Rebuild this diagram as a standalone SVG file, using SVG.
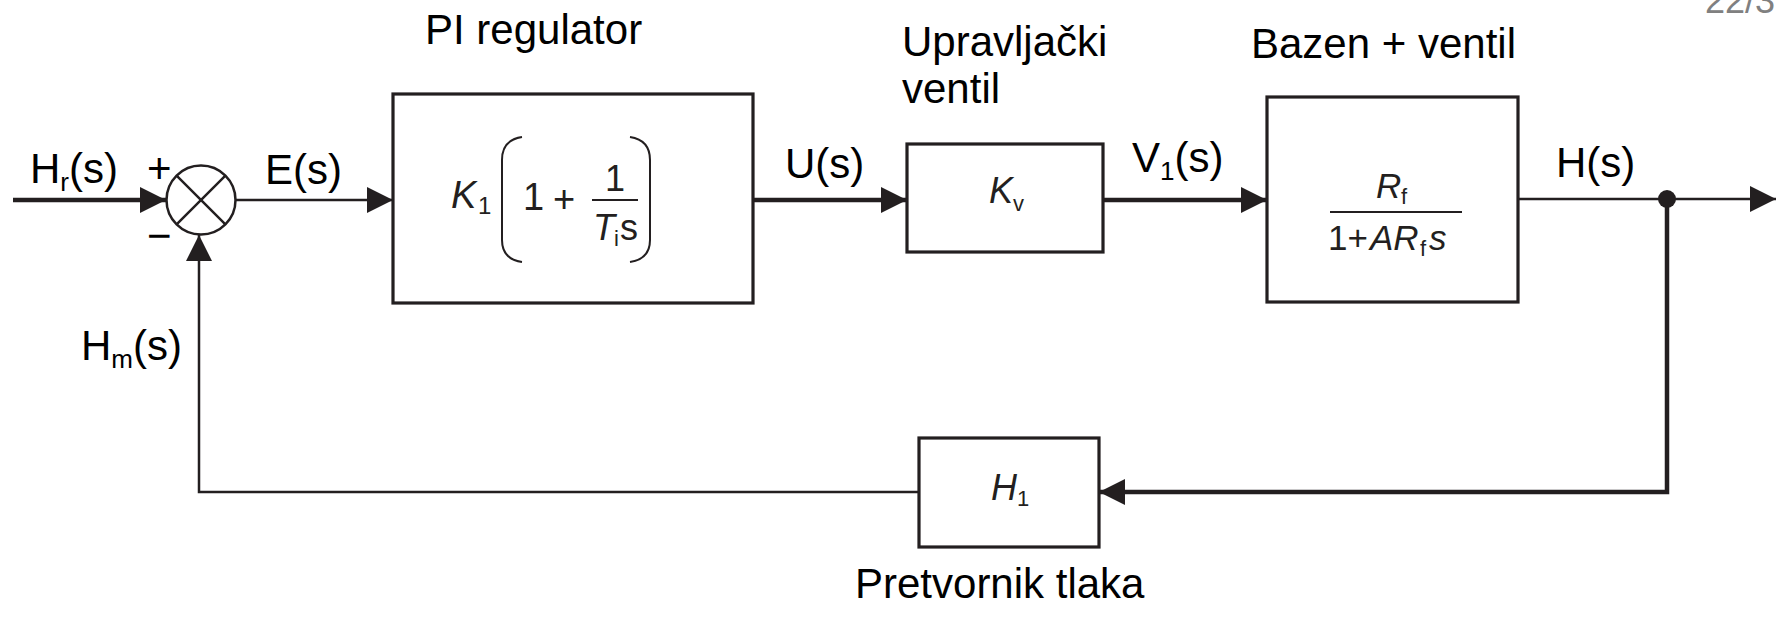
<svg xmlns="http://www.w3.org/2000/svg" width="1776" height="620" viewBox="0 0 1776 620">
<style>
.box{fill:#fff;stroke:#231f20;stroke-width:3.2}
.thick{fill:none;stroke:#231f20;stroke-width:4.5}
.thin{fill:none;stroke:#231f20;stroke-width:2.5}
.lbl{font-family:"Liberation Sans",Arial,sans-serif;font-size:42px;fill:#000}
.math{font-family:"Liberation Sans",Arial,sans-serif;fill:#231f20}
.it{font-style:italic}
</style>
<defs>
<marker id="arr" viewBox="0 0 26 26" refX="26" refY="13" markerWidth="26" markerHeight="26" markerUnits="userSpaceOnUse" orient="auto">
<path d="M0,0 L26,13 L0,26 z" fill="#231f20"/>
</marker>
</defs>
<rect width="1776" height="620" fill="#fff"/>
<text x="1705" y="13" font-family="Liberation Sans,Arial,sans-serif" font-size="36" fill="#808080">22/3</text>

<g id="connectors">
<path class="thick" d="M13,200 H166" marker-end="url(#arr)"/>
<path class="thin" d="M235,200 H393" marker-end="url(#arr)"/>
<path class="thick" d="M753,200 H907" marker-end="url(#arr)"/>
<path class="thick" d="M1103,200 H1267" marker-end="url(#arr)"/>
<path class="thin" d="M1518,199 H1776" marker-end="url(#arr)"/>
<path class="thick" d="M1667,199 V492 H1099" marker-end="url(#arr)"/>
<path class="thin" d="M919,492 H199 V235" marker-end="url(#arr)"/>
<circle cx="1667" cy="199" r="9" fill="#231f20"/>
</g>

<g id="sum">
<circle cx="201" cy="200" r="34.5" fill="#fff" stroke="#231f20" stroke-width="2.5"/>
<path class="thin" d="M176.6,175.6 L225.4,224.4 M225.4,175.6 L176.6,224.4"/>
<text class="lbl" x="147" y="183" font-size="36">+</text>
<text class="lbl" x="147" y="250" font-size="40">−</text>
</g>

<g id="pi">
<rect class="box" x="393" y="94" width="360" height="209"/>
<text class="math it" x="451" y="208" font-size="38">K</text>
<text class="math" x="478" y="214" font-size="24">1</text>
<path d="M522,137 Q502,140 502,160 V240 Q502,259 522,262" fill="none" stroke="#231f20" stroke-width="2"/>
<path d="M630,137 Q650,140 650,160 V240 Q650,259 630,262" fill="none" stroke="#231f20" stroke-width="2"/>
<text class="math" x="523" y="210" font-size="38">1</text>
<text class="math" x="553" y="212" font-size="38">+</text>
<text class="math" x="605" y="191" font-size="36">1</text>
<line x1="592" y1="200" x2="638" y2="200" stroke="#231f20" stroke-width="2"/>
<text class="math it" x="593" y="240" font-size="36">T</text>
<text class="math" x="614" y="246" font-size="22">i</text>
<text class="math" x="620" y="240" font-size="36">s</text>
</g>

<g id="kv">
<rect class="box" x="907" y="144" width="196" height="108"/>
<text class="math it" x="989" y="203" font-size="36">K</text>
<text class="math" x="1013" y="211" font-size="22">v</text>
</g>

<g id="bazen">
<rect class="box" x="1267" y="97" width="251" height="205"/>
<text class="math it" x="1376" y="198" font-size="35">R</text>
<text class="math" x="1401" y="204" font-size="22">f</text>
<line x1="1330" y1="212" x2="1462" y2="212" stroke="#231f20" stroke-width="2"/>
<text class="math" x="1328" y="250" font-size="35">1+</text>
<text class="math it" x="1370" y="250" font-size="35">AR</text>
<text class="math" x="1420" y="256" font-size="22">f</text>
<text class="math it" x="1429" y="250" font-size="35">s</text>
</g>

<g id="h1">
<rect class="box" x="919" y="438" width="180" height="109"/>
<text class="math it" x="991" y="500" font-size="36">H</text>
<text class="math" x="1017" y="506" font-size="22">1</text>
</g>

<g id="labels">
<text class="lbl" x="425" y="44">PI regulator</text>
<text class="lbl" x="902" y="56">Upravljački</text>
<text class="lbl" x="902" y="103">ventil</text>
<text class="lbl" x="1251" y="58">Bazen + ventil</text>
<text class="lbl" x="855" y="598">Pretvornik tlaka</text>
<text class="lbl" x="30" y="183">H<tspan font-size="26" dy="8">r</tspan><tspan dy="-8">(s)</tspan></text>
<text class="lbl" x="265" y="184">E(s)</text>
<text class="lbl" x="785" y="178">U(s)</text>
<text class="lbl" x="1132" y="172">V<tspan font-size="26" dy="8">1</tspan><tspan dy="-8">(s)</tspan></text>
<text class="lbl" x="1556" y="177">H(s)</text>
<text class="lbl" x="81" y="360">H<tspan font-size="26" dy="8">m</tspan><tspan dy="-8">(s)</tspan></text>
</g>
</svg>
